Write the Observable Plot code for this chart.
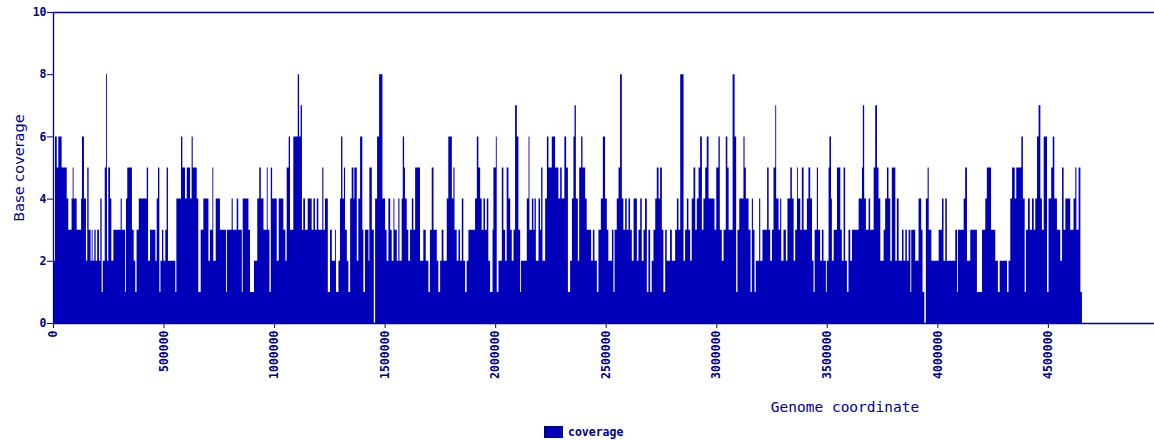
<!DOCTYPE html>
<html>
<head>
<meta charset="utf-8">
<script src="https://cdn.jsdelivr.net/npm/d3@7"></script>
<script src="https://cdn.jsdelivr.net/npm/@observablehq/plot@0.6"></script>
<style>
  html, body { margin: 0; padding: 0; background: #ffffff; overflow: hidden; }
  #chart svg { display: block; }
  #chart g[aria-label$="tick label"] text { font-weight: bold; }
  #legend { position: absolute; left: 544px; top: 426px; height: 12px; display: flex; align-items: center;
            font-family: "DejaVu Sans Mono", monospace; font-size: 11.5px; font-weight: bold; color: #000080; }
  #legend .swatch { width: 17px; height: 10px; background: #0000bb; border: 1px solid #000060; margin-right: 5px; }
</style>
</head>
<body>
<div id="chart"></div>
<div id="legend"><span class="swatch"></span><span>coverage</span></div>
<script>
// Genome coordinate (in kb) where each coverage step begins
const segmentStartKb = [
  0, 9, 17, 24, 39, 62, 69, 84, 89, 93, 107, 127, 131, 140, 149, 155, 161, 170, 175, 179, 187, 193, 200, 208, 214, 220, 225, 234, 240, 244,
  250, 258, 264, 273, 306, 311, 326, 330, 336, 357, 365, 372, 378, 388, 424, 430, 439, 463, 469, 475, 481, 486, 493, 499, 508, 514, 520, 553, 558, 579,
  585, 597, 605, 620, 627, 632, 650, 657, 668, 680, 703, 710, 721, 725, 736, 755, 783, 787, 808, 813, 831, 838, 854, 858, 884, 891, 909, 924, 933, 940,
  952, 967, 971, 979, 985, 991, 1012, 1021, 1042, 1051, 1057, 1066, 1072, 1087, 1107, 1113, 1120, 1126, 1132,
  1140, 1152, 1170, 1178, 1185, 1193, 1200, 1218, 1223, 1230, 1243, 1253, 1261, 1276, 1280, 1291, 1298, 1303, 1309, 1316, 1321, 1329, 1336, 1344, 1351,
  1359, 1363, 1374, 1381, 1389, 1399, 1404, 1411, 1427, 1431, 1442, 1451, 1457, 1466, 1475, 1490, 1502, 1509, 1517, 1525, 1532, 1540, 1544, 1555, 1562,
  1567, 1577, 1582, 1588, 1592, 1600, 1607, 1615, 1623, 1630, 1638, 1660, 1675, 1686, 1698, 1705, 1713, 1721, 1736, 1743, 1751, 1758, 1766, 1781, 1788,
  1804, 1811, 1816, 1826, 1834, 1841, 1849, 1856, 1864, 1871, 1879, 1909, 1917, 1924, 1932, 1939, 1947, 1954, 1962, 1969, 1977, 1988, 1992, 2003, 2007,
  2015, 2030, 2037, 2045, 2052, 2060,
  2068, 2075, 2083, 2090, 2098, 2105, 2113, 2117, 2143, 2151, 2155, 2166, 2173, 2178, 2184, 2196, 2203, 2208, 2214, 2226, 2234, 2241, 2256, 2271, 2286,
  2294, 2301, 2313, 2321, 2329, 2339, 2347, 2354, 2359, 2365, 2374, 2380, 2389, 2395, 2407, 2414, 2434, 2442, 2449, 2460, 2467, 2478, 2487, 2497, 2505,
  2512, 2528, 2535, 2540, 2550, 2558, 2565, 2573, 2580, 2588, 2595, 2603, 2610, 2618, 2626, 2641, 2648, 2656, 2663, 2671, 2678, 2686, 2693, 2701, 2708,
  2716, 2724, 2731, 2739, 2746, 2754, 2761, 2769, 2776, 2791, 2799, 2814, 2822, 2829, 2837, 2852, 2859, 2867, 2874, 2882, 2889, 2897, 2905, 2912, 2920,
  2927, 2935, 2942, 2950, 2957, 2965,
  2973, 2992, 3000, 3010, 3016, 3025, 3033, 3043, 3050, 3056, 3074, 3083, 3090, 3096, 3104, 3123, 3128, 3134, 3146, 3155, 3161, 3166, 3173, 3179, 3194,
  3199, 3209, 3230, 3237, 3244, 3252, 3259, 3267, 3271, 3282, 3289, 3294, 3304, 3315, 3322, 3335, 3342, 3350, 3357, 3365, 3369, 3380, 3387, 3395, 3410,
  3417, 3425, 3433, 3440, 3445, 3455, 3460, 3470, 3478, 3485, 3496, 3500, 3508, 3512, 3519, 3523, 3531, 3546, 3561, 3568, 3576, 3583, 3591, 3598, 3606,
  3614, 3644, 3659, 3663, 3669, 3677, 3689, 3696, 3712, 3719, 3727, 3734, 3742, 3757, 3764, 3772, 3779, 3787, 3794, 3810, 3817, 3825, 3840, 3847, 3855,
  3862, 3870,
  3878, 3882, 3900, 3915, 3927, 3933, 3941, 3948, 3956, 3961, 3973, 4006, 4021, 4028, 4036, 4043, 4081, 4089, 4093, 4119, 4126, 4134, 4149, 4179, 4202,
  4217, 4224, 4243, 4262, 4274, 4282, 4315, 4322, 4330, 4338, 4350, 4357, 4380, 4387, 4395, 4401, 4410, 4418, 4428, 4436, 4443, 4451, 4458, 4466, 4473,
  4481, 4496, 4503, 4515, 4522, 4529, 4541, 4556, 4564, 4571, 4579, 4601, 4616, 4624, 4629, 4639, 4647
];

// Base coverage of each step
const segmentCoverage = [
  2, 6, 5, 6, 5, 4, 3, 4, 5, 4, 3, 4, 6, 4, 2, 5, 3, 2, 3, 2, 3, 2, 3, 2, 4, 1, 2, 5, 8, 2,
  5, 4, 2, 3, 4, 3, 1, 4, 5, 3, 2, 1, 3, 4, 5, 2, 3, 2, 4, 5, 1, 2, 3, 2, 3, 5, 2, 1, 4, 6,
  5, 4, 5, 4, 6, 5, 4, 1, 3, 4, 2, 3, 5, 2, 4, 3, 1, 3, 4, 3, 4, 3, 1, 4, 3, 1, 2, 4, 5, 4,
  3, 5, 3, 1, 5, 4, 2, 4, 3, 2, 5, 6, 3, 6, 8, 6, 7, 3, 4,
  3, 4, 3, 4, 3, 4, 3, 5, 3, 4, 1, 3, 2, 3, 1, 2, 4, 6, 4, 5, 3, 2, 1, 4, 5,
  4, 5, 2, 4, 6, 3, 1, 3, 2, 5, 3, 0, 4, 6, 8, 4, 3, 2, 4, 3, 2, 4, 3, 2, 4,
  2, 4, 6, 5, 4, 3, 2, 3, 4, 3, 5, 2, 3, 2, 1, 3, 5, 3, 2, 1, 2, 3, 2, 4, 6,
  4, 5, 3, 2, 3, 2, 4, 2, 1, 2, 3, 4, 6, 5, 4, 3, 4, 3, 4, 2, 1, 3, 5, 6, 1,
  2, 5, 3, 2, 5, 4,
  3, 2, 3, 7, 6, 3, 1, 2, 4, 6, 3, 4, 3, 4, 2, 4, 3, 5, 2, 4, 6, 5, 6, 5, 4,
  5, 4, 6, 5, 1, 2, 4, 6, 7, 4, 2, 5, 6, 5, 4, 3, 2, 3, 2, 1, 3, 4, 6, 4, 3,
  2, 3, 1, 3, 4, 5, 8, 4, 3, 4, 3, 4, 3, 2, 4, 2, 3, 4, 2, 3, 4, 1, 3, 1, 2,
  3, 4, 5, 4, 5, 3, 1, 3, 2, 3, 2, 3, 4, 3, 8, 2, 3, 4, 3, 2, 4, 5, 3, 4, 5,
  6, 3, 4, 5, 6, 4,
  4, 3, 5, 6, 3, 2, 3, 6, 5, 3, 8, 6, 1, 3, 4, 6, 5, 4, 3, 1, 4, 3, 1, 2, 4,
  2, 3, 5, 3, 2, 3, 5, 7, 4, 3, 4, 2, 3, 2, 4, 5, 4, 2, 3, 5, 4, 3, 5, 3, 4,
  5, 4, 2, 1, 3, 5, 3, 2, 3, 2, 1, 2, 5, 6, 4, 2, 3, 5, 3, 2, 5, 2, 1, 3, 2,
  3, 4, 5, 7, 4, 3, 4, 3, 5, 7, 5, 4, 2, 3, 4, 5, 4, 2, 5, 2, 4, 2, 3, 2, 3,
  2, 3,
  1, 3, 2, 4, 3, 1, 0, 4, 5, 3, 2, 3, 4, 2, 4, 2, 3, 1, 3, 4, 5, 2, 3, 1, 3,
  4, 5, 3, 2, 1, 2, 1, 2, 4, 5, 4, 5, 6, 4, 1, 3, 4, 3, 4, 3, 4, 6, 7, 4, 3,
  6, 1, 4, 5, 6, 4, 3, 2, 5, 3, 4, 3, 4, 5, 3, 5, 1
];

const genomeEndKb = 4654;
const xTicks = [0, 500000, 1000000, 1500000, 2000000, 2500000, 3000000, 3500000, 4000000, 4500000];
const yTicks = [0, 2, 4, 6, 8, 10];
const xLabel = "Genome coordinate";
const yLabel = "Base coverage";

const data = segmentStartKb.map((kb, i) => ({ pos: kb * 1000, cov: segmentCoverage[i] }));
data.push({ pos: genomeEndKb * 1000, cov: segmentCoverage[segmentCoverage.length - 1] });

const navy = "#000080";
const chart = Plot.plot({
  width: 1154,
  height: 420,
  marginLeft: 53,
  marginRight: 0,
  marginTop: 12,
  marginBottom: 97,
  style: { fontFamily: "'DejaVu Sans Mono', monospace", fontSize: "11.5px", color: navy, background: "#ffffff", overflow: "visible" },
  x: { domain: [0, 4980000] },
  y: { domain: [0, 10] },
  marks: [
    Plot.areaY(data, { x: "pos", y: "cov", curve: "step-after", fill: "#0000bb" }),
    Plot.ruleY([0, 10], { stroke: navy, strokeWidth: 1.3 }),
    Plot.ruleX([0], { stroke: navy, strokeWidth: 1.3 }),
    Plot.axisY({ ticks: yTicks, tickSize: 6, tickPadding: 1, tickFormat: d => String(d), label: null }),
    Plot.axisX({ ticks: xTicks, tickSize: 5, tickPadding: 2, tickRotate: -90, tickFormat: d => String(d), label: null }),
    Plot.text([yLabel], { frameAnchor: "left", textAnchor: "middle", lineAnchor: "middle", dx: -34, rotate: -90, fontSize: 14.5, fontFamily: "'DejaVu Sans', sans-serif", fill: navy }),
    Plot.text([xLabel], { frameAnchor: "bottom", textAnchor: "middle", lineAnchor: "middle", dx: 241, dy: 84, fontSize: 14.5, fill: navy })
  ]
});
document.getElementById("chart").append(chart);
</script>
</body>
</html>
